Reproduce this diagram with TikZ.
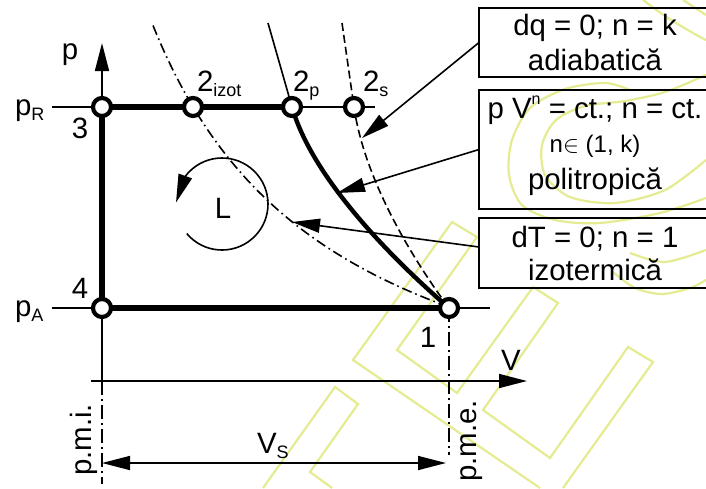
\documentclass[tikz,border=0pt]{standalone}
\usepackage{fontspec}
\setmainfont{Liberation Sans}
\usetikzlibrary{arrows.meta,bending}
\definecolor{wmc}{RGB}{229,235,145}
\newcommand{\lsub}[1]{\raisebox{-2.5pt}{\fontsize{9}{9}\selectfont #1}}
\newcommand{\lsup}[1]{\raisebox{7pt}{\fontsize{8}{8}\selectfont #1}}
\begin{document}
\begin{tikzpicture}[x=0.5pt,y=-0.5pt,
  every node/.style={font=\fontsize{14.7}{17}\selectfont, inner sep=0pt, outer sep=0pt},
  thickln/.style={line width=2.8pt},
  thinln/.style={line width=0.8pt},
  ptmark/.style={circle, draw, fill=white, line width=2.1pt, minimum size=9pt},
  txbox/.style={draw, line width=0.8pt, minimum width=116pt},
  arr/.style={-{Triangle[length=14pt,width=7pt]}},
  arrboth/.style={{Triangle[length=14pt,width=7pt]}-{Triangle[length=14pt,width=7pt]}},
  dashdot/.style={dash pattern=on 5pt off 2pt on 0.8pt off 2pt},
  axisdd/.style={dash pattern=on 7pt off 2pt on 1pt off 2pt},
  dashln/.style={dash pattern=on 4pt off 2pt},
  wm/.style={draw=wmc, line width=1.1pt, line join=miter}
]
\useasboundingbox (0,0) rectangle (706,488);
\clip (0,0) rectangle (706,488);

% ---------- watermark ----------
\draw[wm] (563,488) -- (653,362) -- (628,347) -- (550,458) -- (483,410) -- (558,303)
  -- (533,287) -- (457,393) -- (397,350) -- (477,237) -- (452,222) -- (353,360) -- (540,488);
\draw[wm] (263,488) -- (335,387) -- (358,404) -- (310,472) -- (332,488);
\draw[wm] plot[smooth] coordinates {(706,198) (660,213) (600,223) (555,220) (522,205) (509,175) (512,140) (530,108) (565,89) (605,83) (630,90)};
\draw[wm] plot[smooth] coordinates {(706,160) (665,190) (615,203) (570,197) (545,175) (542,145) (556,120) (585,106) (625,101) (665,92) (706,75)};
\draw[wm] plot[smooth] coordinates {(643,0) (668,18) (693,33) (706,40)};
\draw[wm] plot[smooth] coordinates {(683,0) (706,15)};
\draw[wm] plot[smooth] coordinates {(613,272) (635,288) (662,294) (690,288) (706,280)};
\draw[wm] plot[smooth] coordinates {(630,253) (665,262) (706,250)};

% ---------- coordinates ----------
\coordinate (c3) at (102,107);
\coordinate (c2i) at (193,107);
\coordinate (c2p) at (292,107);
\coordinate (c2s) at (354,107);
\coordinate (c4) at (102,308);
\coordinate (c1) at (449,308);
\coordinate (pRl) at (52,107);
\coordinate (pRr) at (375,107);
\coordinate (pAl) at (52,308);
\coordinate (pAr) at (490,308);
\coordinate (ptip) at (102,43);
\coordinate (vax0) at (91,381);
\coordinate (vax1) at (527,381);
\coordinate (pmi0) at (102,381);
\coordinate (pmi1) at (102,484);
\coordinate (pme1) at (449,455);
\coordinate (vs0) at (102,463);
\coordinate (vs1) at (446,463);
\coordinate (polyTop) at (268,23);
\coordinate (adTop) at (342,23);
\coordinate (adTip) at (362,138);
\coordinate (polyTip) at (337,193);
\coordinate (isoTip) at (292,222);
\coordinate (Lc) at (222,204);

% ---------- boxes ----------
\node[txbox, minimum height=34.5pt] (b1) at (595,42.5) {};
\node[txbox, minimum height=59.5pt] (b2) at (595,149.5) {};
\node[txbox, minimum height=35pt] (b3) at (595,253) {};
\node[anchor=base] (t1a) at (595,35) {dq = 0; n = k};
\node[anchor=base] (t1b) at (595,70) {adiabatică};
\node[anchor=base] (t2a) at (595,118) {p V\lsup{n} = ct.; n = ct.};
\node[anchor=base, font=\fontsize{12}{14}\selectfont] (t2b) at (595,152) {n$\in$ (1, k)};
\node[anchor=base] (t2c) at (595,189) {politropică};
\node[anchor=base] (t3a) at (595,247) {dT = 0; n = 1};
\node[anchor=base] (t3b) at (595,280) {izotermică};

% ---------- curves ----------
\draw[thinln, dashdot] plot[domain=153:449, samples=80] (\x, {483 - 846/(0.01*\x + 0.32)});
\draw[thinln] (polyTop) -- (c2p);
\draw[line width=2.2pt] (c2p) .. controls (312,177) and (389,256) .. (c1);
\draw[thinln, dashln] (adTop) -- (c2s) .. controls (364,177) and (409,254) .. (c1);

% ---------- cycle and axes ----------
\draw[thinln] (pRl) -- (c3);
\draw[thinln] (c2p) -- (c2s) -- (pRr);
\draw[thinln] (pAl) -- (c4);
\draw[thinln] (c1) -- (pAr);
\draw[thickln] (c2p) -- (c3) -- (c4) -- (c1);
\draw[thinln, arr] (c3) -- (ptip);
\draw[thinln] (c4) -- (pmi0);
\draw[thinln, axisdd] (pmi0) -- (pmi1);
\draw[thinln, axisdd] (c1) -- (pme1);
\draw[thinln, arr] (vax0) -- (vax1);
\draw[thinln, arrboth] (vs0) -- (vs1);

% ---------- leader arrows ----------
\draw[thinln, arr] (b1.west) -- (adTip);
\draw[thinln, arr] (b2.west) -- (polyTip);
\draw[thinln, arr] ([yshift=3pt]b3.west) -- (isoTip);

% ---------- work loop ----------
\draw[thinln, arr] (Lc) ++(220:23pt) arc[start angle=220, end angle=538, radius=23pt];

% ---------- state points ----------
\node[ptmark] (n3) at (c3) {};
\node[ptmark] (n2i) at (c2i) {};
\node[ptmark] (n2p) at (c2p) {};
\node[ptmark] (n2s) at (c2s) {};
\node[ptmark] (n4) at (c4) {};
\node[ptmark] (n1) at (c1) {};

% ---------- labels ----------
\node[anchor=base] (lp) at (70,59) {p};
\node[anchor=base west] (lpR) at (15,115) {p\lsub{R}};
\node[anchor=base] (l3) at (80,138) {3};
\node[anchor=base west] (l2i) at (197,91) {2\lsub{izot}};
\node[anchor=base west] (l2p) at (293,91) {2\lsub{p}};
\node[anchor=base west] (l2s) at (363,91) {2\lsub{s}};
\node[anchor=base] (l4) at (80,298) {4};
\node[anchor=base west] (lpA) at (15,316) {p\lsub{A}};
\node[anchor=base] (l1) at (428,347) {1};
\node[anchor=base] (lV) at (511,370) {V};
\node[anchor=base] (lL) at (223,218) {L};
\node[anchor=base west] (lVs) at (257,453) {V\lsub{S}};
\node[rotate=90] (lpmi) at (84,440) {p.m.i.};
\node[rotate=90] (lpme) at (472,441) {p.m.e.};
\end{tikzpicture}
\end{document}
